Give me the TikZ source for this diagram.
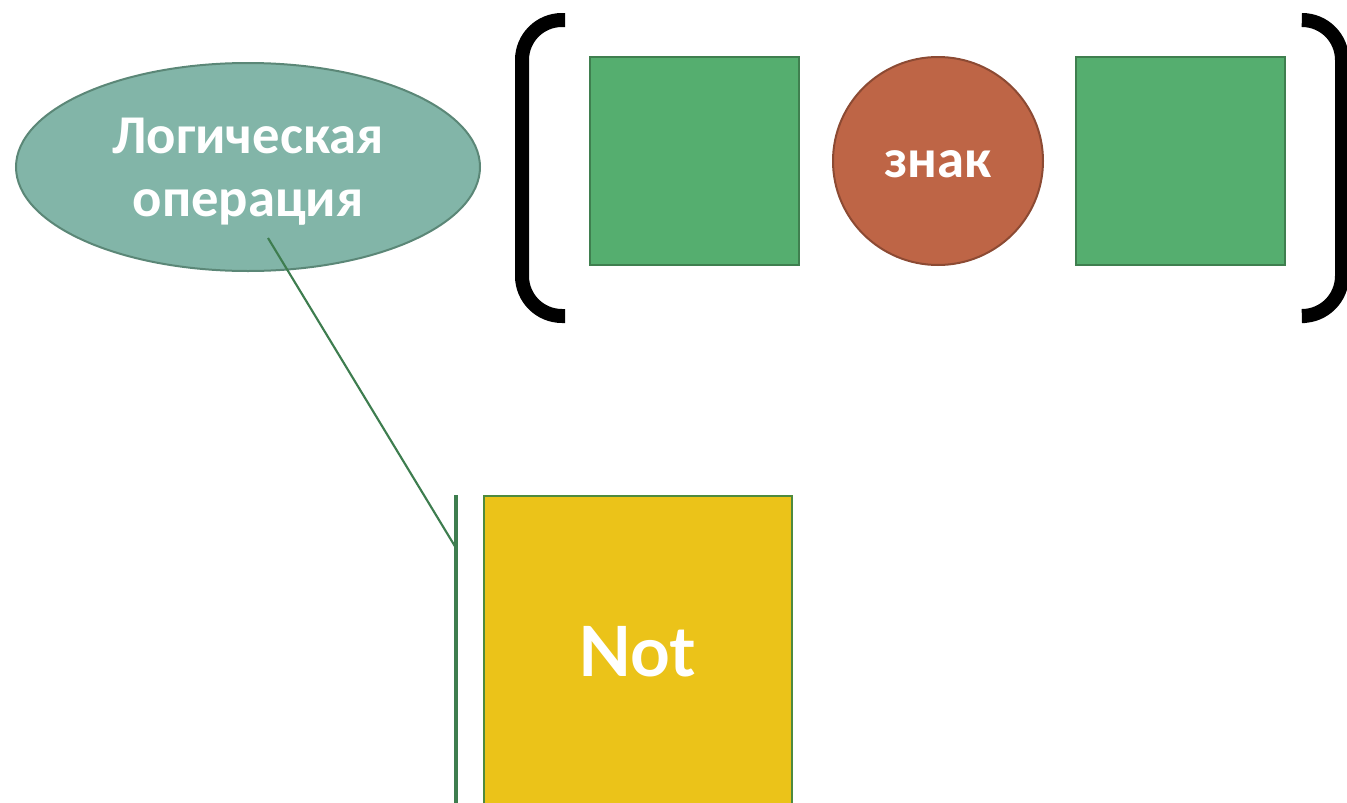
\documentclass[tikz,border=0pt]{standalone}
\usepackage{fontspec}
\setmainfont{Carlito}
\newfontfamily\notfont{Lato}
\usetikzlibrary{shapes.geometric}
\definecolor{ellfill}{HTML}{82B5A8}
\definecolor{elledge}{HTML}{5B8777}
\definecolor{grfill}{HTML}{55AE6F}
\definecolor{gredge}{HTML}{3F7F4F}
\definecolor{cirfill}{HTML}{BE6546}
\definecolor{ciredge}{HTML}{8C4A33}
\definecolor{yelfill}{HTML}{EBC319}
\definecolor{yeledge}{HTML}{4E8A3E}
\definecolor{linegreen}{HTML}{3E7D4F}
\tikzset{
  opell/.style={ellipse, draw=elledge, fill=ellfill, line width=1.5pt, minimum width=348pt, minimum height=156pt, inner sep=0pt},
  eltext/.style={text=white, font=\bfseries\fontsize{41}{47}\selectfont, align=center, inner sep=0pt},
  greenbox/.style={rectangle, draw=gredge, fill=grfill, line width=1.5pt, minimum width=156.75pt, minimum height=156pt, inner sep=0pt},
  signcirc/.style={ellipse, draw=ciredge, fill=cirfill, line width=1.5pt, minimum width=157.5pt, minimum height=156pt, inner sep=0pt},
  bracketline/.style={line width=10.5pt, black, rounded corners=30pt},
  connector/.style={draw=linegreen, line width=1.6pt},
  barline/.style={draw=linegreen, line width=3pt},
}
\begin{document}
\begin{tikzpicture}[x=0.75pt,y=-0.75pt]
\useasboundingbox (0,0) rectangle (1347,803);
\clip (0,0) rectangle (1347,803);
% ellipse
\node[opell] (logop) at (248,167) {};
\node[eltext] (logoptext) at (248,172) {Логическая\\операция};
% brackets
\draw[bracketline] (565,20) -- (522,20) -- (522,316) -- (565,316);
\draw[bracketline] (1305,20) -- (1342,20) -- (1342,316) -- (1305,316);
% boxes
\node[greenbox] (left) at (694.5,161) {};
\node[signcirc] (sign) at (938,161) {};
\node[eltext] (signtext) at (938,164) {знак};
\node[greenbox] (right) at (1180.5,161) {};
% yellow box
\node[rectangle, draw=yeledge, fill=yelfill, line width=1.5pt, minimum width=231pt, minimum height=252pt, inner sep=0pt, anchor=north west] (notbox) at (483,495) {};
\node[text=white, font=\notfont\bfseries\fontsize{52}{60}\selectfont] (nottext) at (637,652) {Not};
% bar and connector
\coordinate (bartop) at (456,495);
\coordinate (barbot) at (456,803);
\coordinate (lstart) at (268,238);
\coordinate (lend) at (456,548);
\draw[barline] (bartop) -- (barbot);
\draw[connector] (lstart) -- (lend);
\end{tikzpicture}
\end{document}
